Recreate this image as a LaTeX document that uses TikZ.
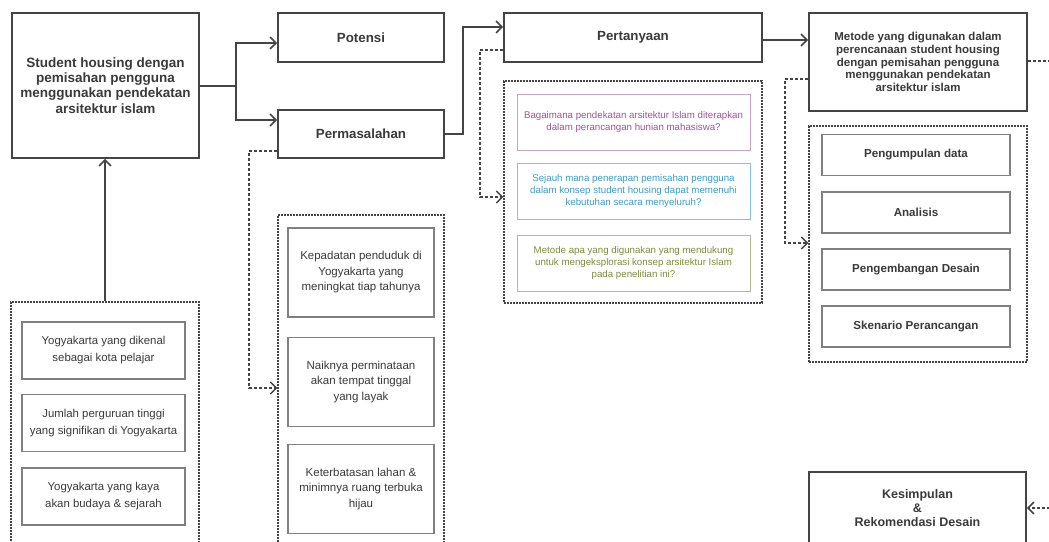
\documentclass[tikz,border=0pt]{standalone}
\usepackage{fontspec}
\setmainfont{Liberation Sans}
\usetikzlibrary{arrows.meta}
\definecolor{ink}{HTML}{3A3A3A}
\definecolor{frame}{HTML}{444444}
\definecolor{subframe}{HTML}{808080}
\definecolor{qpurple}{HTML}{A2529E}
\definecolor{qpurpleb}{HTML}{C9A3C8}
\definecolor{qblue}{HTML}{3E9CC4}
\definecolor{qblueb}{HTML}{86C3DD}
\definecolor{qolive}{HTML}{7E8C3E}
\definecolor{qoliveb}{HTML}{B4BB92}
\tikzset{
  mainbox/.style={draw=frame, line width=1.8pt, fill=white, text=ink, align=center, inner sep=0pt},
  subbox/.style={draw=subframe, line width=1.2pt, fill=white, text=ink, align=center, inner sep=0pt},
  qbox/.style={line width=1pt, fill=white, align=center, inner sep=0pt, minimum width=233pt, minimum height=56pt},
  container/.style={draw=frame, line width=1.1pt, dash pattern=on 2pt off 1pt},
  tip/.style={-{Straight Barb[length=6pt,width=12pt,line width=1.5pt]}},
  arr/.style={draw=frame, line width=1.8pt, tip},
  darr/.style={draw=frame, line width=1.6pt, dash pattern=on 3pt off 2pt, tip},
  dline/.style={draw=frame, line width=1.6pt, dash pattern=on 3pt off 2pt},
}
\begin{document}
\begin{tikzpicture}[x=1pt, y=-1pt]
\clip (0,0) rectangle (1049,541);
\fill[white] (0,0) rectangle (1049,541);

% containers
\node[container, minimum width=258pt, minimum height=222pt, inner sep=0pt] (qcont) at (633,192) {};
\node[container, minimum width=218pt, minimum height=236pt, inner sep=0pt] (mcont) at (918,244) {};
\node[container, minimum width=166pt, minimum height=345pt, inner sep=0pt] (pcont) at (361,387.5) {};
\node[container, minimum width=188pt, minimum height=260pt, inner sep=0pt] (ocont) at (105,432) {};

% main boxes
\node[mainbox, minimum width=187pt, minimum height=145pt, font=\fontsize{13.5}{15.3}\selectfont\bfseries] (main) at (105.5,85.5)
 {Student housing dengan\\pemisahan pengguna\\menggunakan pendekatan\\arsitektur islam};
\node[mainbox, minimum width=166pt, minimum height=49pt, font=\fontsize{13.3}{15}\selectfont\bfseries] (pot) at (361,37.5) {Potensi};
\node[mainbox, minimum width=166pt, minimum height=48pt, font=\fontsize{13.3}{15}\selectfont\bfseries] (prob) at (361,134) {Permasalahan};
\node[mainbox, minimum width=258pt, minimum height=49pt, font=\fontsize{13.3}{15}\selectfont\bfseries] (pert) at (633,37.5) {Pertanyaan};
\node[mainbox, minimum width=218pt, minimum height=98pt, font=\fontsize{11.5}{12.8}\selectfont\bfseries] (met) at (918,62)
 {Metode yang digunakan dalam\\perencanaan student housing\\dengan pemisahan pengguna\\menggunakan pendekatan\\arsitektur islam};
\node[mainbox, minimum width=217pt, minimum height=72pt, font=\fontsize{12.5}{14}\selectfont\bfseries] (kes) at (917.5,508)
 {Kesimpulan\\\&\\Rekomendasi Desain};

% questions
\node[qbox, draw=qpurpleb, text=qpurple, font=\fontsize{9.7}{12}\selectfont] (q1) at (633.5,122)
 {Bagaimana pendekatan arsitektur Islam diterapkan\\dalam perancangan hunian mahasiswa?};
\node[qbox, draw=qblueb, text=qblue, font=\fontsize{9.7}{12}\selectfont] (q2) at (633.5,191)
 {Sejauh mana penerapan pemisahan pengguna\\dalam konsep student housing dapat memenuhi\\kebutuhan secara menyeluruh?};
\node[qbox, draw=qoliveb, text=qolive, font=\fontsize{9.7}{12}\selectfont] (q3) at (633.5,263)
 {Metode apa yang digunakan yang mendukung\\untuk mengeksplorasi konsep arsitektur Islam\\pada penelitian ini?};

% method steps
\tikzset{mstep/.style={subbox, minimum width=188pt, minimum height=41pt, font=\fontsize{11.6}{14}\selectfont\bfseries}}
\node[mstep] (m1) at (916,155) {Pengumpulan data};
\node[mstep] (m2) at (916,212.5) {Analisis};
\node[mstep] (m3) at (916,269.5) {Pengembangan Desain};
\node[mstep] (m4) at (916,326.5) {Skenario Perancangan};

% problems
\tikzset{pstep/.style={subbox, minimum width=146pt, minimum height=89pt, font=\fontsize{11.5}{15.5}\selectfont}}
\node[pstep] (p1) at (361,272.5) {Kepadatan penduduk di\\Yogyakarta yang\\meningkat tiap tahunya};
\node[pstep] (p2) at (361,382) {Naiknya perminataan\\akan tempat tinggal\\yang layak};
\node[pstep] (p3) at (361,489) {Keterbatasan lahan \&\\minimnya ruang terbuka\\hijau};

% potentials
\tikzset{ostep/.style={subbox, minimum width=163pt, minimum height=57pt, font=\fontsize{11.4}{17}\selectfont}}
\node[ostep] (o1) at (103.5,350.5) {Yogyakarta yang dikenal\\sebagai kota pelajar};
\node[ostep] (o2) at (103.5,423) {Jumlah perguruan tinggi\\yang signifikan di Yogyakarta};
\node[ostep] (o3) at (103.5,496.5) {Yogyakarta yang kaya\\akan budaya \& sejarah};

% helper coordinates
\coordinate (sp1) at (236,86);
\coordinate (ya) at (0,43);
\coordinate (yb) at (0,120);
\coordinate (sp2) at (463,134);
\coordinate (yc) at (0,27);
\coordinate (yd) at (0,40);
\coordinate (ye) at (0,50);
\coordinate (xe) at (480,0);
\coordinate (yf) at (0,197);
\coordinate (yg) at (0,79);
\coordinate (xg) at (785,0);
\coordinate (yh) at (0,243);
\coordinate (yi) at (0,151);
\coordinate (xi) at (249,0);
\coordinate (yj) at (0,388);
\coordinate (yk) at (0,61);
\coordinate (outr) at (1060,61);
\coordinate (inr) at (1060,508);
\coordinate (xo) at (105,0);

% solid connectors
\draw[arr] (main.east |- sp1) -- (sp1) |- (pot.west |- ya);
\draw[arr] (sp1) |- (prob.west |- yb);
\draw[arr] (prob.east) -- (sp2) |- (pert.west |- yc);
\draw[arr] (pert.east |- yd) -- (met.west |- yd);
\draw[arr] (ocont.north -| xo) -- (main.south -| xo);

% dashed connectors
\draw[darr] (pert.west |- ye) -- (xe |- ye) -- (xe |- yf) -- (qcont.west |- yf);
\draw[darr] (met.west |- yg) -- (xg |- yg) -- (xg |- yh) -- (mcont.west |- yh);
\draw[darr] (prob.west |- yi) -- (xi |- yi) -- (xi |- yj) -- (pcont.west |- yj);
\draw[dline] (met.east |- yk) -- (outr);
\draw[darr] (inr) -- (kes.east |- inr);
\end{tikzpicture}
\end{document}
